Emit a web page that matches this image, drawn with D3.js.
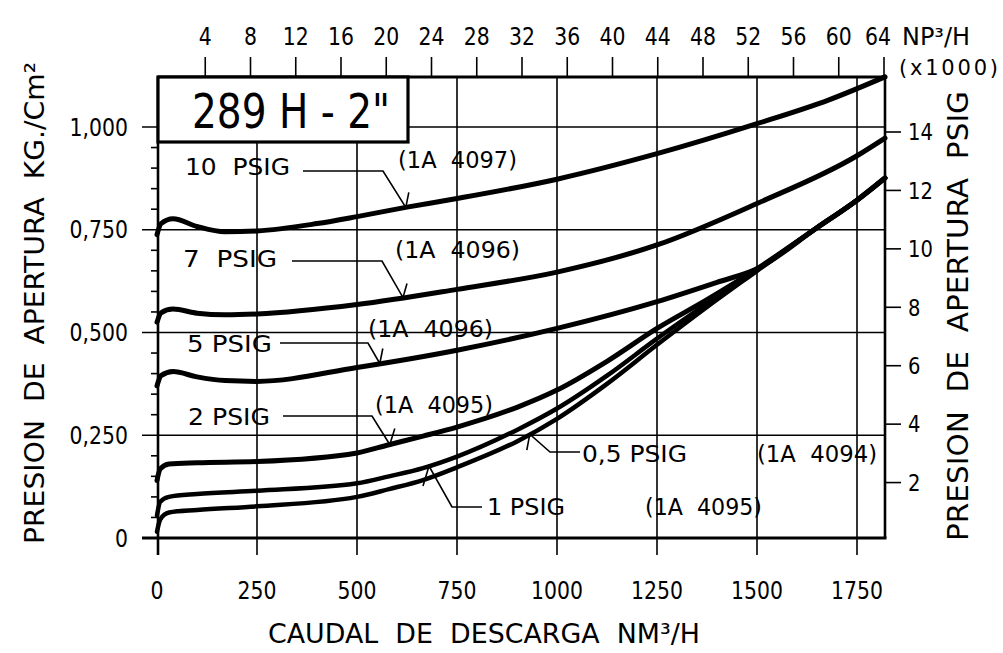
<!DOCTYPE html>
<html>
<head>
<meta charset="utf-8">
<script src="https://cdn.jsdelivr.net/npm/d3@7"></script>
<style>
html, body { margin: 0; padding: 0; background: #fff; }
svg { display: block; }
text { font-family: "DejaVu Sans", sans-serif; fill: #000; white-space: pre; }
</style>
</head>
<body>
<svg id="chart" width="1003" height="653"></svg>
<script>
// axis ticks
const flowTicks = [0, 250, 500, 750, 1000, 1250, 1500, 1750];
const kgTicks = [0, 0.25, 0.5, 0.75, 1.0];
const kgLabels = ["0", "0,250", "0,500", "0,750", "1,000"];
const psiTicks = [2, 4, 6, 8, 10, 12, 14];
const npTicks = [4, 8, 12, 16, 20, 24, 28, 32, 36, 40, 44, 48, 52, 56, 60, 64];

// curves: caudal NM3/H -> presion de apertura kg/cm2
const flow10 = [0, 10, 40, 100, 170, 250, 400, 500, 625, 750, 1000, 1250, 1500, 1680, 1820];
const open10 = [0.738, 0.765, 0.777, 0.758, 0.745, 0.747, 0.765, 0.782, 0.805, 0.826, 0.873, 0.935, 1.008, 1.066, 1.122];

const flow7 = [0, 10, 40, 100, 170, 250, 500, 750, 1000, 1250, 1500, 1750, 1820];
const open7 = [0.525, 0.548, 0.557, 0.547, 0.543, 0.545, 0.568, 0.605, 0.647, 0.713, 0.814, 0.93, 0.973];

const flow5 = [0, 10, 40, 100, 170, 250, 500, 750, 1000, 1250, 1400, 1500, 1650, 1750, 1820];
const open5 = [0.37, 0.395, 0.405, 0.392, 0.383, 0.381, 0.415, 0.457, 0.51, 0.575, 0.622, 0.655, 0.755, 0.822, 0.876];

const flowLow = [0, 8, 30, 100, 250, 500, 580, 665, 750, 900, 1000, 1125, 1250, 1375, 1500, 1650, 1750, 1820];
const open2 = [0.14, 0.168, 0.18, 0.183, 0.186, 0.207, 0.227, 0.248, 0.27, 0.318, 0.36, 0.43, 0.51, 0.58, 0.655, 0.755, 0.822, 0.876];
const open1 = [0.055, 0.088, 0.1, 0.107, 0.115, 0.133, 0.15, 0.17, 0.198, 0.263, 0.315, 0.395, 0.485, 0.57, 0.652, 0.755, 0.822, 0.876];
const open05 = [0.015, 0.045, 0.062, 0.068, 0.077, 0.1, 0.119, 0.141, 0.172, 0.235, 0.29, 0.375, 0.47, 0.562, 0.65, 0.755, 0.822, 0.876];

const series = [
    { name: "10  PSIG", code: "(1A  4097)", flow: flow10, open: open10, w: 5 },
    { name: "7  PSIG", code: "(1A  4096)", flow: flow7, open: open7, w: 5 },
    { name: "5 PSIG", code: "(1A  4096)", flow: flow5, open: open5, w: 5 },
    { name: "2 PSIG", code: "(1A  4095)", flow: flowLow, open: open2, w: 5 },
    { name: "1 PSIG", code: "(1A  4095)", flow: flowLow, open: open1, w: 4.5 },
    { name: "0,5 PSIG", code: "(1A  4094)", flow: flowLow, open: open05, w: 4.5 }
];

// where each leader touches its curve (NM3/H) and where its texts sit
const leaders = [
    { at: 622, line: [303, 383, 171], tick: [3, -15], nameAt: [185, 175, 105], codeAt: [398, 168, 119] },
    { at: 615, line: [292, 382, 261], tick: [4, -14], nameAt: [183, 267, 94], codeAt: [395, 258, 125] },
    { at: 557, line: [280, 368, 343], tick: [3, -15], nameAt: [187, 352, 85], codeAt: [368, 337, 125] },
    { at: 582, line: [283, 372, 416], tick: [5, -16], nameAt: [188, 425, 82], codeAt: [375, 413, 118] },
    { at: 680, line: [482, 452, 507], tick: [-6, 20], nameAt: [487, 515, 78], codeAt: [645, 515, 117] },
    { at: 932, line: [580, 550, 452], tick: [-3, 16], nameAt: [582, 462, 105], codeAt: [757, 462, 120] }
];

const svg = d3.select("#chart");

const x = d3.scaleLinear().domain([0, 1820]).range([157, 885]);
const y = d3.scaleLinear().domain([0, 1]).range([538, 127]);
const yPsi = d3.scaleLinear().domain([0, 14]).range([541, 132]);
const xTop = d3.scaleLinear().domain([0, 64]).range([160, 884]);

const plotL = x(0) + 1, plotR = x(1820), plotT = 77, plotB = y(0);

function label(g, str, px, py, o = {}) {
    const t = g.append("text").text(str)
        .attr("font-size", o.size || 24)
        .attr("text-anchor", o.anchor || "start");
    let tr = `translate(${px},${py})`;
    if (o.rotate) tr += ` rotate(${o.rotate})`;
    if (o.sx) tr += ` scale(${o.sx},1)`;
    t.attr("transform", tr);
    if (o.dy) t.attr("dy", o.dy);
    if (o.len) t.attr("textLength", o.len).attr("lengthAdjust", o.adjust || "spacingAndGlyphs");
    return t;
}

const grid = svg.append("g").attr("stroke", "#000").attr("stroke-width", 1.6);

// vertical grid, running below the axis as ticks
grid.selectAll(".vgrid")
    .data(flowTicks.slice(1))
    .enter().append("line")
    .attr("x1", d => x(d)).attr("x2", d => x(d))
    .attr("y1", plotT).attr("y2", plotB + 17);

// horizontal grid, starting with the major tick left of the axis
grid.selectAll(".hgrid")
    .data(kgTicks.slice(1))
    .enter().append("line")
    .attr("x1", plotL - 16).attr("x2", plotR)
    .attr("y1", d => y(d)).attr("y2", d => y(d));

// minor ticks every 0.05
const minor = d3.range(1, 20).map(i => i * 0.05).filter(v => Math.abs(v * 4 - Math.round(v * 4)) > 1e-6);
grid.selectAll(".minor")
    .data(minor)
    .enter().append("line")
    .attr("x1", plotL - 7).attr("x2", plotL)
    .attr("y1", d => y(d)).attr("y2", d => y(d));

// top scale ticks
grid.selectAll(".ttick")
    .data(npTicks)
    .enter().append("line")
    .attr("x1", d => xTop(d)).attr("x2", d => xTop(d))
    .attr("y1", plotT).attr("y2", plotT - 20);

// right scale ticks
grid.selectAll(".rtick")
    .data(psiTicks)
    .enter().append("line")
    .attr("x1", plotR).attr("x2", plotR + 16)
    .attr("y1", d => yPsi(d)).attr("y2", d => yPsi(d));

// frame
const frame = svg.append("g").attr("stroke", "#000").attr("fill", "none");
frame.append("line").attr("x1", plotL).attr("x2", plotR + 1.5).attr("y1", plotT).attr("y2", plotT).attr("stroke-width", 3.2);
frame.append("line").attr("x1", plotL - 16).attr("x2", plotR + 1.5).attr("y1", plotB).attr("y2", plotB).attr("stroke-width", 3);
frame.append("line").attr("x1", plotL).attr("x2", plotL).attr("y1", plotT).attr("y2", plotB + 17).attr("stroke-width", 2.6);
frame.append("line").attr("x1", plotR).attr("x2", plotR).attr("y1", plotT).attr("y2", plotB).attr("stroke-width", 2.6);

// title box
svg.append("rect")
    .attr("x", plotL).attr("y", plotT)
    .attr("width", 408 - plotL).attr("height", 142 - plotT)
    .attr("fill", "#fff").attr("stroke", "#000").attr("stroke-width", 3.2);
label(svg, "289 H - 2\"", 192, 128, { size: 48, len: 198 });

// curves
const line = d3.line().curve(d3.curveMonotoneX);
svg.append("g").selectAll("path")
    .data(series)
    .enter().append("path")
    .attr("fill", "none").attr("stroke", "#000")
    .attr("stroke-width", d => d.w)
    .attr("stroke-linecap", "round")
    .attr("d", d => line(d.flow.map((f, i) => [x(f), y(d.open[i])])));

// leaders and curve labels
const notes = svg.append("g");
series.forEach((s, i) => {
    const L = leaders[i];
    const onCurve = d3.scaleLinear().domain(s.flow).range(s.open);
    const ax = x(L.at), ay = y(onCurve(L.at));
    const [hx, ex, ey] = L.line;
    notes.append("path")
        .attr("fill", "none").attr("stroke", "#000").attr("stroke-width", 1.6)
        .attr("d", `M${hx},${ey}L${ex},${ey}L${ax},${ay}L${ax + L.tick[0]},${ay + L.tick[1]}`);
    label(notes, s.name, L.nameAt[0], L.nameAt[1], { size: 23, len: L.nameAt[2] });
    label(notes, s.code, L.codeAt[0], L.codeAt[1], { size: 23, len: L.codeAt[2] });
});

// tick labels
const tl = svg.append("g");
kgTicks.forEach((v, i) => label(tl, kgLabels[i], 128, y(v), { size: 24, anchor: "end", sx: 0.85, dy: "0.36em" }));
flowTicks.forEach(v => label(tl, String(v), x(v), 599, { size: 24, anchor: "middle", sx: 0.85 }));
npTicks.forEach(v => label(tl, String(v), xTop(v) - (v === 64 ? 6 : 0), 45, { size: 24, anchor: "middle", sx: 0.85 }));
psiTicks.forEach(v => label(tl, String(v), plotR + 23, yPsi(v), { size: 23, sx: 0.85, dy: "0.36em" }));

label(tl, "NP\u00B3/H", 902, 45, { size: 24, len: 68 });
label(tl, "(x1000)", 899, 75, { size: 21, len: 99, adjust: "spacing" });

// axis titles
label(svg, "PRESION  DE  APERTURA  KG./Cm\u00B2", 44, 303, { size: 27, anchor: "middle", rotate: -90, len: 482 });
label(svg, "PRESION  DE  APERTURA  PSIG", 968, 316, { size: 28, anchor: "middle", rotate: -90, len: 450 });
label(svg, "CAUDAL  DE  DESCARGA  NM\u00B3/H", 484, 643, { size: 26, anchor: "middle", len: 432 });
</script>
</body>
</html>
